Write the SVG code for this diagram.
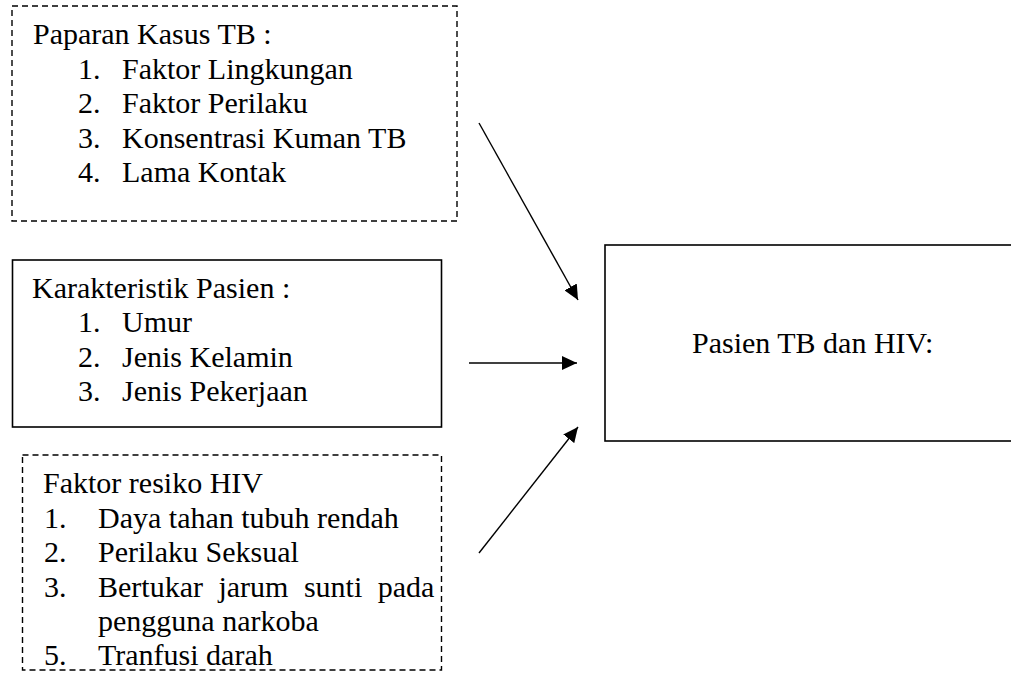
<svg xmlns="http://www.w3.org/2000/svg" width="1011" height="700" viewBox="0 0 1011 700">
<style>
.dash{fill:#fff;stroke:#000;stroke-width:1.4;stroke-dasharray:6 4}
.solid{fill:#fff;stroke:#000;stroke-width:1.6}
.conn{stroke:#000;stroke-width:1.4;fill:none}
.t{font-family:'Times New Roman','Liberation Serif',Tinos,'Noto Serif','DejaVu Serif',serif;font-size:30px;fill:#000}
</style>
<defs>
<marker id="ah" markerUnits="userSpaceOnUse" markerWidth="16" markerHeight="14" refX="15" refY="7" orient="auto">
<path d="M0,0 L15,7 L0,14 z" fill="#000"/>
</marker>
</defs>
<rect width="1011" height="700" fill="#fff"/>
<g class="t">
<g id="paparan">
<rect class="dash" x="12" y="6" width="445" height="215"/>
<text x="33" y="44">Paparan Kasus TB :</text>
<text x="78" y="79">1.</text><text x="122" y="79">Faktor Lingkungan</text>
<text x="78" y="113">2.</text><text x="122" y="113">Faktor Perilaku</text>
<text x="78" y="148">3.</text><text x="122" y="148">Konsentrasi Kuman TB</text>
<text x="78" y="182">4.</text><text x="122" y="182">Lama Kontak</text>
</g>
<g id="karakteristik">
<rect class="solid" x="12.5" y="260" width="429" height="167"/>
<text x="32" y="298">Karakteristik Pasien :</text>
<text x="78" y="332">1.</text><text x="122" y="332">Umur</text>
<text x="78" y="367">2.</text><text x="122" y="367">Jenis Kelamin</text>
<text x="78" y="401">3.</text><text x="122" y="401">Jenis Pekerjaan</text>
</g>
<g id="faktor-hiv">
<rect class="dash" x="22.5" y="455" width="419" height="215"/>
<text x="43" y="493">Faktor resiko HIV</text>
<text x="44" y="528">1.</text><text x="98" y="528">Daya tahan tubuh rendah</text>
<text x="44" y="562">2.</text><text x="98" y="562">Perilaku Seksual</text>
<text x="44" y="597">3.</text><text x="98" y="597" word-spacing="8">Bertukar jarum sunti pada</text>
<text x="98" y="631">pengguna narkoba</text>
<text x="44" y="665">5.</text><text x="98" y="665">Tranfusi darah</text>
</g>
<g id="pasien">
<rect class="solid" x="605" y="245" width="420" height="196"/>
<text x="692" y="353">Pasien TB dan HIV:</text>
</g>
</g>
<g id="connectors">
<line class="conn" x1="479" y1="123" x2="578" y2="300" marker-end="url(#ah)"/>
<line class="conn" x1="469" y1="363" x2="577" y2="363" marker-end="url(#ah)"/>
<line class="conn" x1="479" y1="553" x2="578" y2="427" marker-end="url(#ah)"/>
</g>
</svg>
